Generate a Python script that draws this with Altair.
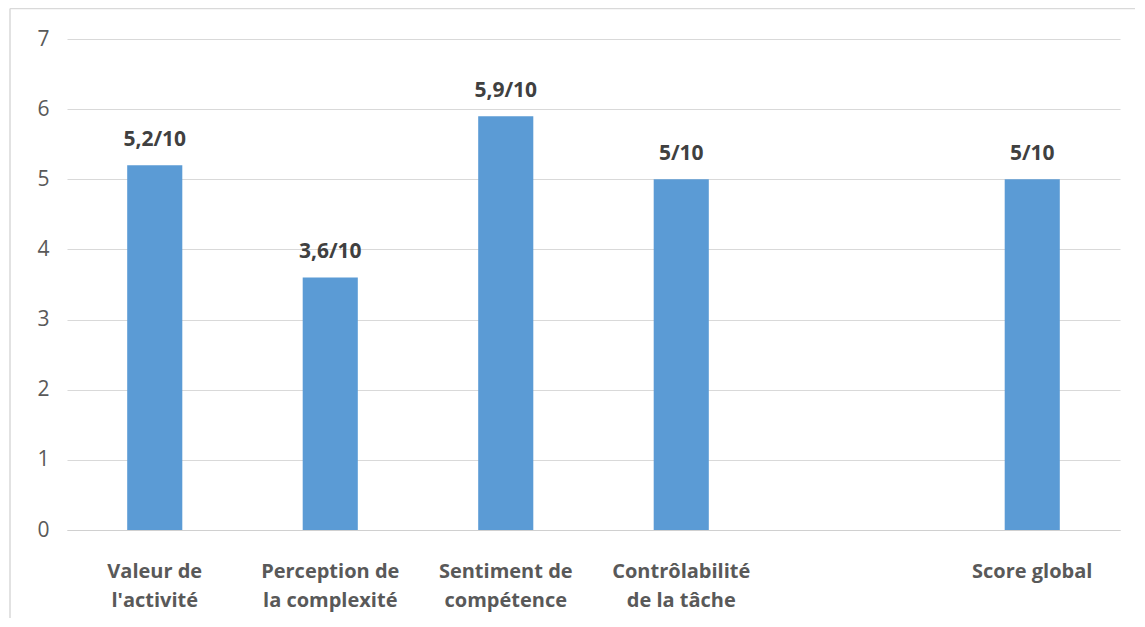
import altair as alt
import pandas as pd

categories = ["Valeur de|l'activité", "Perception de|la complexité", "Sentiment de|compétence",
              "Contrôlabilité|de la tâche", " ", "Score global"]
values = [5.2, 3.6, 5.9, 5.0, None, 5.0]
value_labels = ["5,2/10", "3,6/10", "5,9/10", "5/10", "", "5/10"]

df = pd.DataFrame({"cat": categories, "val": values, "lab": value_labels})
df_bars = df.dropna()

x = alt.X("cat:N", sort=categories,
          scale=alt.Scale(domain=categories, paddingInner=0.686, paddingOuter=0.343),
          axis=alt.Axis(title=None, labelAngle=0, ticks=False, grid=False, domain=True, domainColor="#d0d0d0",
                        labelExpr="split(datum.label, '|')", labelFont="Open Sans",
                        labelFontWeight="bold", labelFontSize=20, labelColor="#595959",
                        labelPadding=31, labelLineHeight=29))
y = alt.Y("val:Q", scale=alt.Scale(domain=[0, 7]),
          axis=alt.Axis(title=None, values=[0, 1, 2, 3, 4, 5, 6, 7], ticks=False, domain=False,
                        gridColor="#d9d9d9", labelFont="Open Sans", labelFontSize=21,
                        labelColor="#595959", labelPadding=18))

bars = alt.Chart(df_bars).mark_bar(color="#5B9BD5").encode(x=x, y=y)
text = alt.Chart(df_bars).mark_text(dy=-19, baseline="alphabetic", font="Open Sans", fontWeight="bold",
                                    fontSize=21, color="#404040").encode(x=x, y=y, text="lab:N")

one = pd.DataFrame({"a": [0]})
frame_top = alt.Chart(one).mark_rule(color="#d9d9d9", strokeWidth=1.5).encode(
    x=alt.value(-57), x2=alt.value(1068), y=alt.value(-30.5))
frame_left = alt.Chart(one).mark_rule(color="#d9d9d9", strokeWidth=1.5).encode(
    x=alt.value(-57), y=alt.value(-30.5), y2=alt.value(580))

chart = alt.layer(frame_top, frame_left, bars, text).properties(
    width=1053, height=491,
    background="white",
    autosize=alt.AutoSizeParams(type="none"),
    padding={"left": 59, "top": 31, "right": 15, "bottom": 88},
).configure_view(strokeWidth=0, stroke="transparent")

chart.save("out.html", embed_options={"renderer": "svg", "actions": False})
